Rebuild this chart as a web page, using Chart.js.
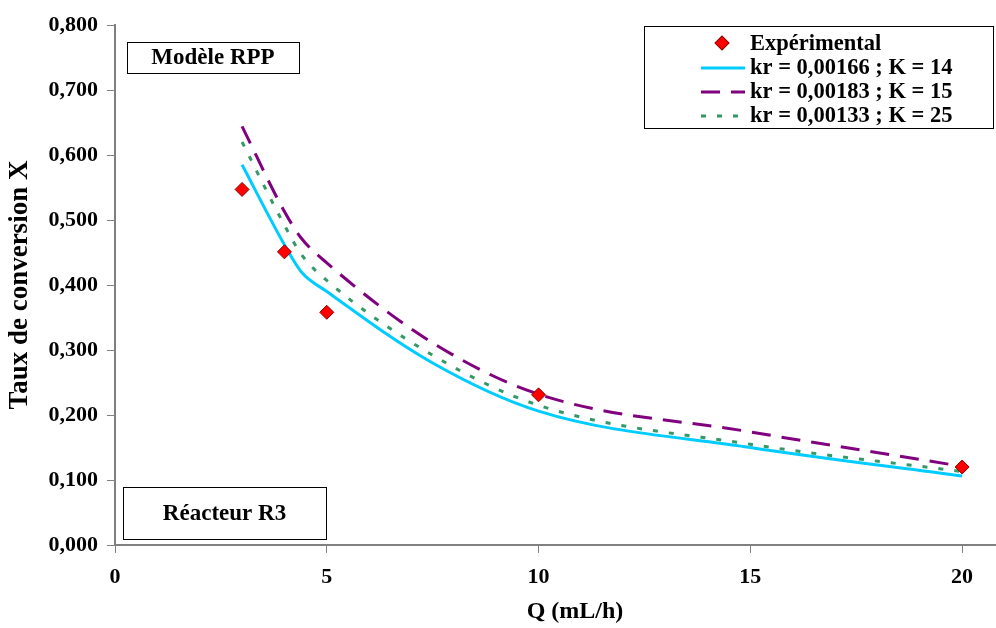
<!DOCTYPE html>
<html>
<head>
<meta charset="utf-8">
<script src="https://cdn.jsdelivr.net/npm/chart.js@4/dist/chart.umd.min.js"></script>
<style>
  html, body { margin: 0; padding: 0; background: #fff; }
  #wrap { width: 996px; height: 628px; position: relative; }
</style>
</head>
<body>
<div id="wrap"><canvas id="chart"></canvas></div>
<script>
// experimental points
const qExp = [3, 4, 5, 10, 20];
const xExp = [0.547, 0.451, 0.358, 0.231, 0.120];

// model curves
const qModel  = [3, 4, 4.4, 5, 7.5, 10, 15, 20];
const xModel1 = [0.585, 0.462, 0.420, 0.390, 0.280, 0.206, 0.150, 0.106]; // kr = 0,00166 ; K = 14
const xModel2 = [0.644, 0.513, 0.472, 0.434, 0.311, 0.232, 0.174, 0.121]; // kr = 0,00183 ; K = 15
const xModel3 = [0.620, 0.492, 0.447, 0.407, 0.292, 0.215, 0.155, 0.113]; // kr = 0,00133 ; K = 25

const seriesLabels = ['Expérimental', 'kr = 0,00166 ; K = 14', 'kr = 0,00183 ; K = 15', 'kr = 0,00133 ; K = 25'];
const xTicks = [0, 5, 10, 15, 20];
const xTitle = 'Q (mL/h)';

const FONT = '"Liberation Serif", "Times New Roman", serif';
const pts = (xs, ys) => xs.map((x, i) => ({ x, y: ys[i] }));

/* ── boxes + legend drawn on top ── */
function textBox(c, x, y, w, h, txt) {
  c.fillStyle = '#fff';
  c.fillRect(x, y, w, h);
  c.strokeStyle = '#000';
  c.lineWidth = 1;
  c.strokeRect(x + 0.5, y + 0.5, w, h);
  c.fillStyle = '#000';
  c.font = 'bold 23px ' + FONT;
  c.textAlign = 'center';
  c.textBaseline = 'middle';
  c.fillText(txt, x + w / 2, y + h / 2 + 1);
}

const overlay = {
  id: 'overlay',
  afterDraw(chart) {
    const c = chart.ctx;
    c.save();
    textBox(c, 127, 42, 172, 31, 'Modèle RPP');
    textBox(c, 123, 487, 203, 52, 'Réacteur R3');

    // x title (original plot ran past the right edge, so it sits off-centre)
    c.fillStyle = '#000';
    c.font = 'bold 24px ' + FONT;
    c.textAlign = 'center';
    c.textBaseline = 'middle';
    c.fillText(xTitle, 575, 612);

    // legend box
    c.fillStyle = '#fff';
    c.fillRect(644, 26, 349, 102);
    c.strokeStyle = '#000';
    c.lineWidth = 1;
    c.strokeRect(644.5, 26.5, 349, 102);

    const rows = [43, 67, 91, 115];
    chart.data.datasets.forEach((ds, i) => {
      const y = rows[i];
      c.save();
      if (i === 0) {
        c.translate(722, y);
        c.rotate(Math.PI / 4);
        c.fillStyle = ds.pointBackgroundColor;
        c.strokeStyle = ds.pointBorderColor;
        c.lineWidth = 1;
        c.fillRect(-5, -5, 10, 10);
        c.strokeRect(-5, -5, 10, 10);
      } else {
        c.strokeStyle = ds.borderColor;
        c.lineWidth = ds.borderWidth;
        c.setLineDash(ds.borderDash || []);
        c.beginPath();
        c.moveTo(701, y + 1);
        c.lineTo(745, y + 1);
        c.stroke();
      }
      c.restore();
      c.fillStyle = '#000';
      c.font = 'bold 22.5px ' + FONT;
      c.textAlign = 'left';
      c.textBaseline = 'middle';
      c.fillText(ds.label, 750, y + 1);
    });
    c.restore();
  }
};

new Chart(document.getElementById('chart'), {
  type: 'scatter',
  data: {
    datasets: [
      {
        label: seriesLabels[0],
        data: pts(qExp, xExp),
        showLine: false,
        pointStyle: 'rectRot',
        pointRadius: 7,
        pointBackgroundColor: '#ff0000',
        pointBorderColor: '#8b0000',
        pointBorderWidth: 1,
        order: 0,
      },
      {
        label: seriesLabels[1],
        data: pts(qModel, xModel1),
        showLine: true,
        borderColor: '#00ccff',
        borderWidth: 3,
        pointRadius: 0,
        cubicInterpolationMode: 'monotone',
        order: 3,
      },
      {
        label: seriesLabels[2],
        data: pts(qModel, xModel2),
        showLine: true,
        borderColor: '#800080',
        borderWidth: 3,
        borderDash: [19, 11],
        pointRadius: 0,
        cubicInterpolationMode: 'monotone',
        order: 1,
      },
      {
        label: seriesLabels[3],
        data: pts(qModel, xModel3),
        showLine: true,
        borderColor: '#339966',
        borderWidth: 3,
        borderDash: [5, 11],
        pointRadius: 0,
        cubicInterpolationMode: 'monotone',
        order: 2,
      },
    ]
  },
  options: {
    responsive: true,
    maintainAspectRatio: false,
    animation: false,
    layout: { autoPadding: false, padding: { top: 25, right: 0, left: 0, bottom: 0 } },
    plugins: {
      legend: { display: false },
      tooltip: { enabled: false },
    },
    scales: {
      x: {
        type: 'linear',
        min: 0,
        max: 20.8,
        afterBuildTicks: s => { s.ticks = xTicks.map(v => ({ value: v })); },
        afterFit: s => { s.height = 83; s.paddingRight = 0; s.paddingLeft = 0; },
        border: { color: '#808080', width: 2 },
        grid: { drawOnChartArea: false, drawTicks: true, tickLength: 8, color: '#808080' },
        ticks: { color: '#000', padding: 11, font: { family: FONT, size: 22, weight: 'bold' } },
      },
      y: {
        min: 0,
        max: 0.8,
        afterFit: s => { s.width = 115; s.paddingTop = 0; s.paddingBottom = 0; },
        border: { color: '#808080', width: 2 },
        grid: { drawOnChartArea: false, drawTicks: true, tickLength: 8, color: '#808080' },
        ticks: {
          stepSize: 0.1,
          color: '#000',
          padding: 9,
          font: { family: FONT, size: 22, weight: 'bold' },
          callback: v => v.toFixed(3).replace('.', ','),
        },
        title: {
          display: true,
          text: 'Taux de conversion X',
          color: '#000',
          padding: { top: 4, bottom: 0 },
          font: { family: FONT, size: 27, weight: 'bold' },
        },
      }
    }
  },
  plugins: [overlay]
});
</script>
</body>
</html>
